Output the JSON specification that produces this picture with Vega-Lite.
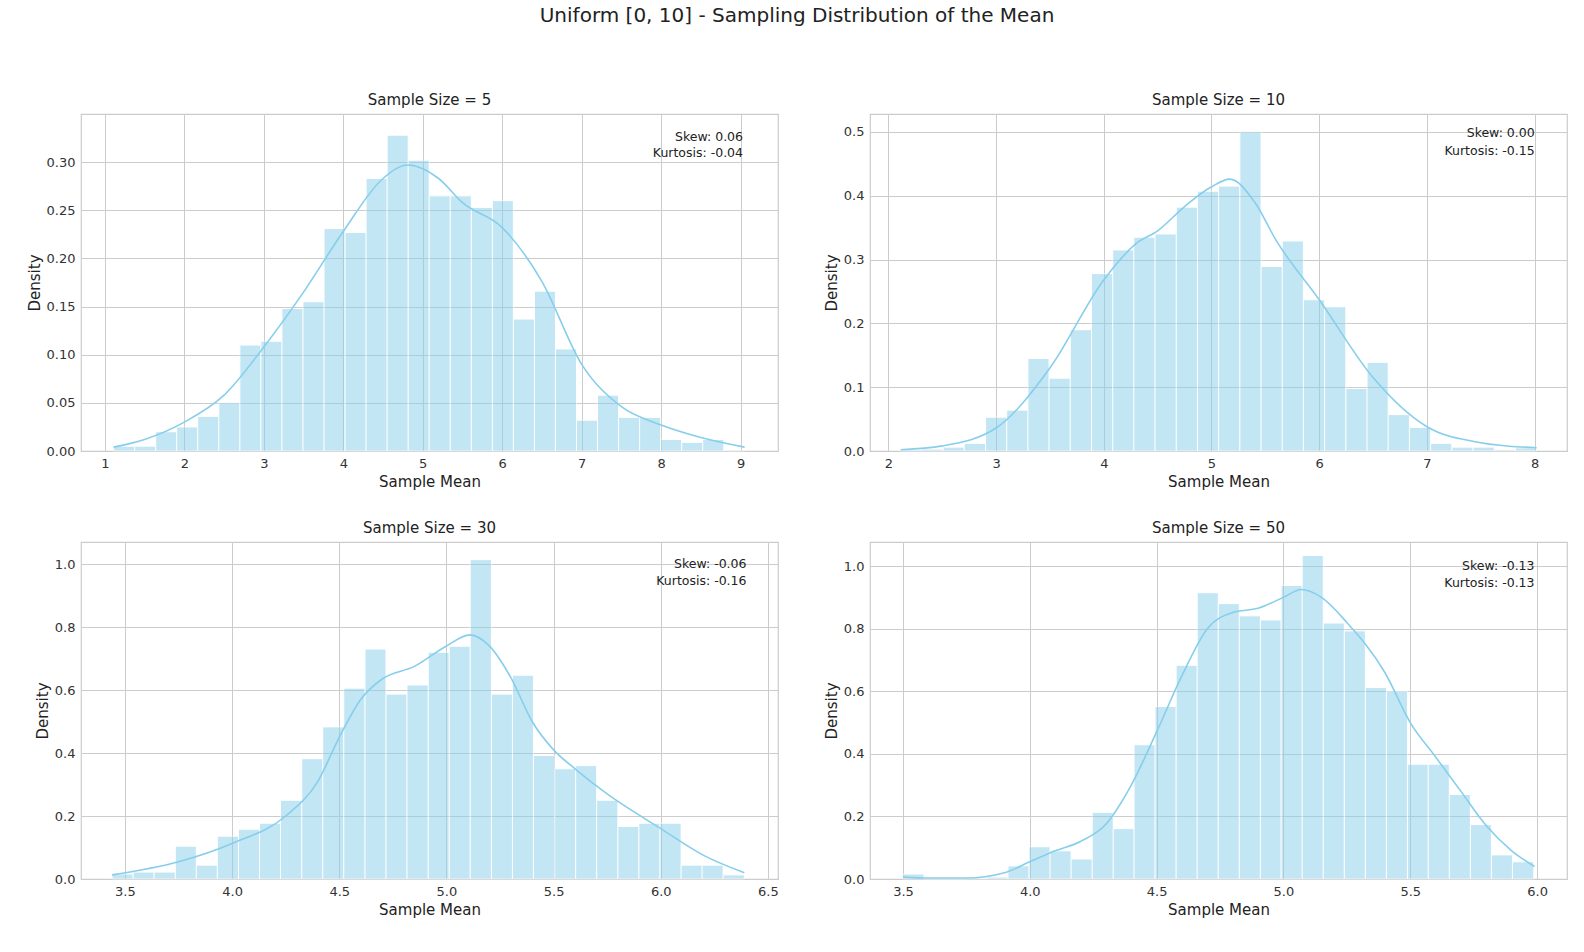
{
  "$schema": "https://vega.github.io/schema/vega-lite/v6.json",
  "background": "white",
  "padding": {"left": 26, "top": 6, "right": 5, "bottom": 5},
  "title": {"text": "Uniform [0, 10] - Sampling Distribution of the Mean", "fontSize": 20, "fontWeight": "normal", "font": "DejaVu Sans", "color": "#222", "anchor": "middle", "offset": 66},
  "datasets": {
    "bars": [
      {"p": 5, "x0": 1.11, "x1": 1.375, "d": 0.005}, {"p": 5, "x0": 1.375, "x1": 1.64, "d": 0.005}, {"p": 5, "x0": 1.64, "x1": 1.904, "d": 0.02}, {"p": 5, "x0": 1.904, "x1": 2.169, "d": 0.025}, {"p": 5, "x0": 2.169, "x1": 2.434, "d": 0.036}, {"p": 5, "x0": 2.434, "x1": 2.699, "d": 0.05}, {"p": 5, "x0": 2.699, "x1": 2.963, "d": 0.11}, {"p": 5, "x0": 2.963, "x1": 3.228, "d": 0.114}, {"p": 5, "x0": 3.228, "x1": 3.493, "d": 0.148}, {"p": 5, "x0": 3.493, "x1": 3.758, "d": 0.155},
      {"p": 5, "x0": 3.758, "x1": 4.022, "d": 0.231}, {"p": 5, "x0": 4.022, "x1": 4.287, "d": 0.227}, {"p": 5, "x0": 4.287, "x1": 4.552, "d": 0.283}, {"p": 5, "x0": 4.552, "x1": 4.817, "d": 0.328}, {"p": 5, "x0": 4.817, "x1": 5.081, "d": 0.302}, {"p": 5, "x0": 5.081, "x1": 5.346, "d": 0.265}, {"p": 5, "x0": 5.346, "x1": 5.611, "d": 0.265}, {"p": 5, "x0": 5.611, "x1": 5.876, "d": 0.253}, {"p": 5, "x0": 5.876, "x1": 6.14, "d": 0.26}, {"p": 5, "x0": 6.14, "x1": 6.405, "d": 0.137},
      {"p": 5, "x0": 6.405, "x1": 6.67, "d": 0.166}, {"p": 5, "x0": 6.67, "x1": 6.935, "d": 0.106}, {"p": 5, "x0": 6.935, "x1": 7.199, "d": 0.032}, {"p": 5, "x0": 7.199, "x1": 7.464, "d": 0.058}, {"p": 5, "x0": 7.464, "x1": 7.729, "d": 0.035}, {"p": 5, "x0": 7.729, "x1": 7.994, "d": 0.035}, {"p": 5, "x0": 7.994, "x1": 8.258, "d": 0.012}, {"p": 5, "x0": 8.258, "x1": 8.523, "d": 0.009}, {"p": 5, "x0": 8.523, "x1": 8.788, "d": 0.012}, {"p": 5, "x0": 8.788, "x1": 9.05, "d": 0.001},

      {"p": 10, "x0": 2.115, "x1": 2.312, "d": 0.002}, {"p": 10, "x0": 2.312, "x1": 2.509, "d": 0.003}, {"p": 10, "x0": 2.509, "x1": 2.705, "d": 0.006}, {"p": 10, "x0": 2.705, "x1": 2.902, "d": 0.012}, {"p": 10, "x0": 2.902, "x1": 3.099, "d": 0.053}, {"p": 10, "x0": 3.099, "x1": 3.296, "d": 0.064}, {"p": 10, "x0": 3.296, "x1": 3.492, "d": 0.145}, {"p": 10, "x0": 3.492, "x1": 3.689, "d": 0.114}, {"p": 10, "x0": 3.689, "x1": 3.886, "d": 0.19}, {"p": 10, "x0": 3.886, "x1": 4.083, "d": 0.278},
      {"p": 10, "x0": 4.083, "x1": 4.279, "d": 0.315}, {"p": 10, "x0": 4.279, "x1": 4.476, "d": 0.335}, {"p": 10, "x0": 4.476, "x1": 4.673, "d": 0.34}, {"p": 10, "x0": 4.673, "x1": 4.87, "d": 0.382}, {"p": 10, "x0": 4.87, "x1": 5.066, "d": 0.407}, {"p": 10, "x0": 5.066, "x1": 5.263, "d": 0.415}, {"p": 10, "x0": 5.263, "x1": 5.46, "d": 0.5}, {"p": 10, "x0": 5.46, "x1": 5.657, "d": 0.289}, {"p": 10, "x0": 5.657, "x1": 5.853, "d": 0.329}, {"p": 10, "x0": 5.853, "x1": 6.05, "d": 0.237},
      {"p": 10, "x0": 6.05, "x1": 6.247, "d": 0.226}, {"p": 10, "x0": 6.247, "x1": 6.444, "d": 0.098}, {"p": 10, "x0": 6.444, "x1": 6.64, "d": 0.139}, {"p": 10, "x0": 6.64, "x1": 6.837, "d": 0.057}, {"p": 10, "x0": 6.837, "x1": 7.034, "d": 0.037}, {"p": 10, "x0": 7.034, "x1": 7.231, "d": 0.012}, {"p": 10, "x0": 7.231, "x1": 7.427, "d": 0.006}, {"p": 10, "x0": 7.427, "x1": 7.624, "d": 0.006}, {"p": 10, "x0": 7.624, "x1": 7.821, "d": 0.002}, {"p": 10, "x0": 7.821, "x1": 8.018, "d": 0.005},

      {"p": 30, "x0": 3.44, "x1": 3.538, "d": 0.016}, {"p": 30, "x0": 3.538, "x1": 3.636, "d": 0.022}, {"p": 30, "x0": 3.636, "x1": 3.735, "d": 0.022}, {"p": 30, "x0": 3.735, "x1": 3.833, "d": 0.104}, {"p": 30, "x0": 3.833, "x1": 3.931, "d": 0.044}, {"p": 30, "x0": 3.931, "x1": 4.03, "d": 0.136}, {"p": 30, "x0": 4.03, "x1": 4.128, "d": 0.158}, {"p": 30, "x0": 4.128, "x1": 4.226, "d": 0.177}, {"p": 30, "x0": 4.226, "x1": 4.325, "d": 0.25}, {"p": 30, "x0": 4.325, "x1": 4.423, "d": 0.382},
      {"p": 30, "x0": 4.423, "x1": 4.521, "d": 0.483}, {"p": 30, "x0": 4.521, "x1": 4.62, "d": 0.606}, {"p": 30, "x0": 4.62, "x1": 4.718, "d": 0.73}, {"p": 30, "x0": 4.718, "x1": 4.816, "d": 0.587}, {"p": 30, "x0": 4.816, "x1": 4.915, "d": 0.616}, {"p": 30, "x0": 4.915, "x1": 5.013, "d": 0.72}, {"p": 30, "x0": 5.013, "x1": 5.111, "d": 0.739}, {"p": 30, "x0": 5.111, "x1": 5.21, "d": 1.014}, {"p": 30, "x0": 5.21, "x1": 5.308, "d": 0.587}, {"p": 30, "x0": 5.308, "x1": 5.406, "d": 0.647},
      {"p": 30, "x0": 5.406, "x1": 5.505, "d": 0.392}, {"p": 30, "x0": 5.505, "x1": 5.603, "d": 0.35}, {"p": 30, "x0": 5.603, "x1": 5.701, "d": 0.36}, {"p": 30, "x0": 5.701, "x1": 5.8, "d": 0.25}, {"p": 30, "x0": 5.8, "x1": 5.898, "d": 0.167}, {"p": 30, "x0": 5.898, "x1": 5.996, "d": 0.177}, {"p": 30, "x0": 5.996, "x1": 6.095, "d": 0.177}, {"p": 30, "x0": 6.095, "x1": 6.193, "d": 0.044}, {"p": 30, "x0": 6.193, "x1": 6.291, "d": 0.044}, {"p": 30, "x0": 6.291, "x1": 6.39, "d": 0.013},

      {"p": 50, "x0": 3.5, "x1": 3.583, "d": 0.016}, {"p": 50, "x0": 3.583, "x1": 3.666, "d": 0}, {"p": 50, "x0": 3.666, "x1": 3.749, "d": 0}, {"p": 50, "x0": 3.749, "x1": 3.831, "d": 0.002}, {"p": 50, "x0": 3.831, "x1": 3.914, "d": 0.006}, {"p": 50, "x0": 3.914, "x1": 3.997, "d": 0.042}, {"p": 50, "x0": 3.997, "x1": 4.08, "d": 0.103}, {"p": 50, "x0": 4.08, "x1": 4.163, "d": 0.09}, {"p": 50, "x0": 4.163, "x1": 4.246, "d": 0.064}, {"p": 50, "x0": 4.246, "x1": 4.329, "d": 0.213},
      {"p": 50, "x0": 4.329, "x1": 4.411, "d": 0.161}, {"p": 50, "x0": 4.411, "x1": 4.494, "d": 0.429}, {"p": 50, "x0": 4.494, "x1": 4.577, "d": 0.551}, {"p": 50, "x0": 4.577, "x1": 4.66, "d": 0.683}, {"p": 50, "x0": 4.66, "x1": 4.743, "d": 0.915}, {"p": 50, "x0": 4.743, "x1": 4.826, "d": 0.88}, {"p": 50, "x0": 4.826, "x1": 4.909, "d": 0.841}, {"p": 50, "x0": 4.909, "x1": 4.991, "d": 0.828}, {"p": 50, "x0": 4.991, "x1": 5.074, "d": 0.938}, {"p": 50, "x0": 5.074, "x1": 5.157, "d": 1.034},
      {"p": 50, "x0": 5.157, "x1": 5.24, "d": 0.818}, {"p": 50, "x0": 5.24, "x1": 5.323, "d": 0.793}, {"p": 50, "x0": 5.323, "x1": 5.406, "d": 0.612}, {"p": 50, "x0": 5.406, "x1": 5.489, "d": 0.6}, {"p": 50, "x0": 5.489, "x1": 5.571, "d": 0.367}, {"p": 50, "x0": 5.571, "x1": 5.654, "d": 0.367}, {"p": 50, "x0": 5.654, "x1": 5.737, "d": 0.27}, {"p": 50, "x0": 5.737, "x1": 5.82, "d": 0.174}, {"p": 50, "x0": 5.82, "x1": 5.903, "d": 0.077}, {"p": 50, "x0": 5.903, "x1": 5.987, "d": 0.055}
    ],
    "kde": [
      {"p": 5, "x": 1.11, "d": 0.004}, {"p": 5, "x": 1.5, "d": 0.012}, {"p": 5, "x": 2.0, "d": 0.03}, {"p": 5, "x": 2.5, "d": 0.058}, {"p": 5, "x": 3.0, "d": 0.108}, {"p": 5, "x": 3.5, "d": 0.165}, {"p": 5, "x": 4.0, "d": 0.228}, {"p": 5, "x": 4.5, "d": 0.283}, {"p": 5, "x": 4.81, "d": 0.297}, {"p": 5, "x": 5.2, "d": 0.283}, {"p": 5, "x": 5.5, "d": 0.258}, {"p": 5, "x": 6.0, "d": 0.232}, {"p": 5, "x": 6.5, "d": 0.176}, {"p": 5, "x": 7.0, "d": 0.09}, {"p": 5, "x": 7.5, "d": 0.046}, {"p": 5, "x": 8.0, "d": 0.027}, {"p": 5, "x": 8.5, "d": 0.014}, {"p": 5, "x": 9.05, "d": 0.004},
      {"p": 10, "x": 2.115, "d": 0.002}, {"p": 10, "x": 2.5, "d": 0.008}, {"p": 10, "x": 3.0, "d": 0.036}, {"p": 10, "x": 3.5, "d": 0.13}, {"p": 10, "x": 4.0, "d": 0.268}, {"p": 10, "x": 4.3, "d": 0.325}, {"p": 10, "x": 4.5, "d": 0.345}, {"p": 10, "x": 4.75, "d": 0.383}, {"p": 10, "x": 5.0, "d": 0.414}, {"p": 10, "x": 5.17, "d": 0.426}, {"p": 10, "x": 5.4, "d": 0.39}, {"p": 10, "x": 5.6, "d": 0.33}, {"p": 10, "x": 6.0, "d": 0.237}, {"p": 10, "x": 6.5, "d": 0.115}, {"p": 10, "x": 7.0, "d": 0.038}, {"p": 10, "x": 7.5, "d": 0.013}, {"p": 10, "x": 8.018, "d": 0.005},
      {"p": 30, "x": 3.44, "d": 0.013}, {"p": 30, "x": 3.75, "d": 0.055}, {"p": 30, "x": 4.0, "d": 0.113}, {"p": 30, "x": 4.25, "d": 0.2}, {"p": 30, "x": 4.4, "d": 0.31}, {"p": 30, "x": 4.5, "d": 0.45}, {"p": 30, "x": 4.6, "d": 0.57}, {"p": 30, "x": 4.7, "d": 0.635}, {"p": 30, "x": 4.85, "d": 0.675}, {"p": 30, "x": 5.0, "d": 0.74}, {"p": 30, "x": 5.11, "d": 0.775}, {"p": 30, "x": 5.2, "d": 0.74}, {"p": 30, "x": 5.3, "d": 0.64}, {"p": 30, "x": 5.4, "d": 0.5}, {"p": 30, "x": 5.5, "d": 0.41}, {"p": 30, "x": 5.6, "d": 0.35}, {"p": 30, "x": 5.75, "d": 0.27}, {"p": 30, "x": 6.0, "d": 0.16}, {"p": 30, "x": 6.2, "d": 0.075}, {"p": 30, "x": 6.39, "d": 0.02},
      {"p": 50, "x": 3.5, "d": 0.006}, {"p": 50, "x": 3.6, "d": 0.003}, {"p": 50, "x": 3.75, "d": 0.003}, {"p": 50, "x": 3.9, "d": 0.02}, {"p": 50, "x": 4.0, "d": 0.055}, {"p": 50, "x": 4.1, "d": 0.09}, {"p": 50, "x": 4.2, "d": 0.12}, {"p": 50, "x": 4.3, "d": 0.175}, {"p": 50, "x": 4.4, "d": 0.3}, {"p": 50, "x": 4.5, "d": 0.47}, {"p": 50, "x": 4.6, "d": 0.65}, {"p": 50, "x": 4.7, "d": 0.8}, {"p": 50, "x": 4.8, "d": 0.852}, {"p": 50, "x": 4.9, "d": 0.865}, {"p": 50, "x": 5.0, "d": 0.9}, {"p": 50, "x": 5.07, "d": 0.925}, {"p": 50, "x": 5.15, "d": 0.9}, {"p": 50, "x": 5.25, "d": 0.82}, {"p": 50, "x": 5.4, "d": 0.66}, {"p": 50, "x": 5.5, "d": 0.5}, {"p": 50, "x": 5.6, "d": 0.39}, {"p": 50, "x": 5.7, "d": 0.28}, {"p": 50, "x": 5.8, "d": 0.17}, {"p": 50, "x": 5.9, "d": 0.09}, {"p": 50, "x": 5.99, "d": 0.04}
    ],
    "notes": [
      {"p": 5, "x": 9.03, "y": 0.3265, "t": "Skew: 0.06"}, {"p": 5, "x": 9.03, "y": 0.3095, "t": "Kurtosis: -0.04"},
      {"p": 10, "x": 8.0, "y": 0.4975, "t": "Skew: 0.00"}, {"p": 10, "x": 8.0, "y": 0.4705, "t": "Kurtosis: -0.15"},
      {"p": 30, "x": 6.4, "y": 1.0, "t": "Skew: -0.06"}, {"p": 30, "x": 6.4, "y": 0.946, "t": "Kurtosis: -0.16"},
      {"p": 50, "x": 5.99, "y": 1.0, "t": "Skew: -0.13"}, {"p": 50, "x": 5.99, "y": 0.946, "t": "Kurtosis: -0.13"}
    ]
  },
  "vconcat": [
    {
      "hconcat": [
        {
          "title": "Sample Size = 5",
          "width": 697, "height": 337,
          "layer": [
            {"data": {"name": "bars"}, "transform": [{"filter": "datum.p == 5"}], "mark": {"type": "bar", "color": "#87CEEB", "opacity": 0.5, "stroke": "white", "strokeWidth": 1, "strokeOpacity": 1},
             "encoding": {
               "x": {"field": "x0", "type": "quantitative", "scale": {"domain": [0.7, 9.47], "nice": false, "zero": false}, "axis": {"values": [1, 2, 3, 4, 5, 6, 7, 8, 9], "format": "d", "title": "Sample Mean"}},
               "x2": {"field": "x1"},
               "y": {"field": "d", "type": "quantitative", "scale": {"domain": [0, 0.35], "nice": false}, "axis": {"values": [0, 0.05, 0.1, 0.15, 0.2, 0.25, 0.3], "format": ".2f", "title": "Density"}},
               "y2": {"datum": 0}}},
            {"data": {"name": "kde"}, "transform": [{"filter": "datum.p == 5"}], "mark": {"type": "line", "color": "#87CEEB", "strokeWidth": 1.6, "interpolate": "monotone"},
             "encoding": {"x": {"field": "x", "type": "quantitative"}, "y": {"field": "d", "type": "quantitative"}}},
            {"data": {"name": "notes"}, "transform": [{"filter": "datum.p == 5"}], "mark": {"type": "text", "align": "right", "fontSize": 12.5, "color": "#222"},
             "encoding": {"x": {"field": "x", "type": "quantitative"}, "y": {"field": "y", "type": "quantitative"}, "text": {"field": "t"}}}
          ]
        },
        {
          "title": "Sample Size = 10",
          "width": 697, "height": 337,
          "layer": [
            {"data": {"name": "bars"}, "transform": [{"filter": "datum.p == 10"}], "mark": {"type": "bar", "color": "#87CEEB", "opacity": 0.5, "stroke": "white", "strokeWidth": 1, "strokeOpacity": 1},
             "encoding": {
               "x": {"field": "x0", "type": "quantitative", "scale": {"domain": [1.83, 8.3], "nice": false, "zero": false}, "axis": {"values": [2, 3, 4, 5, 6, 7, 8], "format": "d", "title": "Sample Mean"}},
               "x2": {"field": "x1"},
               "y": {"field": "d", "type": "quantitative", "scale": {"domain": [0, 0.528], "nice": false}, "axis": {"values": [0, 0.1, 0.2, 0.3, 0.4, 0.5], "format": ".1f", "title": "Density"}},
               "y2": {"datum": 0}}},
            {"data": {"name": "kde"}, "transform": [{"filter": "datum.p == 10"}], "mark": {"type": "line", "color": "#87CEEB", "strokeWidth": 1.6, "interpolate": "monotone"},
             "encoding": {"x": {"field": "x", "type": "quantitative"}, "y": {"field": "d", "type": "quantitative"}}},
            {"data": {"name": "notes"}, "transform": [{"filter": "datum.p == 10"}], "mark": {"type": "text", "align": "right", "fontSize": 12.5, "color": "#222"},
             "encoding": {"x": {"field": "x", "type": "quantitative"}, "y": {"field": "y", "type": "quantitative"}, "text": {"field": "t"}}}
          ]
        }
      ]
    },
    {
      "hconcat": [
        {
          "title": "Sample Size = 30",
          "width": 697, "height": 337,
          "layer": [
            {"data": {"name": "bars"}, "transform": [{"filter": "datum.p == 30"}], "mark": {"type": "bar", "color": "#87CEEB", "opacity": 0.5, "stroke": "white", "strokeWidth": 1, "strokeOpacity": 1},
             "encoding": {
               "x": {"field": "x0", "type": "quantitative", "scale": {"domain": [3.295, 6.547], "nice": false, "zero": false}, "axis": {"values": [3.5, 4, 4.5, 5, 5.5, 6, 6.5], "format": ".1f", "title": "Sample Mean"}},
               "x2": {"field": "x1"},
               "y": {"field": "d", "type": "quantitative", "scale": {"domain": [0, 1.07], "nice": false}, "axis": {"values": [0, 0.2, 0.4, 0.6, 0.8, 1.0], "format": ".1f", "title": "Density"}},
               "y2": {"datum": 0}}},
            {"data": {"name": "kde"}, "transform": [{"filter": "datum.p == 30"}], "mark": {"type": "line", "color": "#87CEEB", "strokeWidth": 1.6, "interpolate": "monotone"},
             "encoding": {"x": {"field": "x", "type": "quantitative"}, "y": {"field": "d", "type": "quantitative"}}},
            {"data": {"name": "notes"}, "transform": [{"filter": "datum.p == 30"}], "mark": {"type": "text", "align": "right", "fontSize": 12.5, "color": "#222"},
             "encoding": {"x": {"field": "x", "type": "quantitative"}, "y": {"field": "y", "type": "quantitative"}, "text": {"field": "t"}}}
          ]
        },
        {
          "title": "Sample Size = 50",
          "width": 697, "height": 337,
          "layer": [
            {"data": {"name": "bars"}, "transform": [{"filter": "datum.p == 50"}], "mark": {"type": "bar", "color": "#87CEEB", "opacity": 0.5, "stroke": "white", "strokeWidth": 1, "strokeOpacity": 1},
             "encoding": {
               "x": {"field": "x0", "type": "quantitative", "scale": {"domain": [3.37, 6.118], "nice": false, "zero": false}, "axis": {"values": [3.5, 4, 4.5, 5, 5.5, 6], "format": ".1f", "title": "Sample Mean"}},
               "x2": {"field": "x1"},
               "y": {"field": "d", "type": "quantitative", "scale": {"domain": [0, 1.077], "nice": false}, "axis": {"values": [0, 0.2, 0.4, 0.6, 0.8, 1.0], "format": ".1f", "title": "Density"}},
               "y2": {"datum": 0}}},
            {"data": {"name": "kde"}, "transform": [{"filter": "datum.p == 50"}], "mark": {"type": "line", "color": "#87CEEB", "strokeWidth": 1.6, "interpolate": "monotone"},
             "encoding": {"x": {"field": "x", "type": "quantitative"}, "y": {"field": "d", "type": "quantitative"}}},
            {"data": {"name": "notes"}, "transform": [{"filter": "datum.p == 50"}], "mark": {"type": "text", "align": "right", "fontSize": 12.5, "color": "#222"},
             "encoding": {"x": {"field": "x", "type": "quantitative"}, "y": {"field": "y", "type": "quantitative"}, "text": {"field": "t"}}}
          ]
        }
      ],
      "spacing": 44
    }
  ],
  "spacing": 30,
  "config": {
    "font": "DejaVu Sans",
    "concat": {"spacing": 44},
    "view": {"stroke": "#cccccc", "strokeWidth": 1.2},
    "axis": {"grid": true, "gridColor": "#cccccc", "gridWidth": 1, "domain": false, "ticks": false, "labelFontSize": 13, "labelColor": "#333", "labelPadding": 6, "titleFontSize": 15, "titleFontWeight": "normal", "titleColor": "#222", "titlePadding": 4},
    "title": {"fontSize": 15, "fontWeight": "normal", "color": "#222", "offset": 6}
  }
}
